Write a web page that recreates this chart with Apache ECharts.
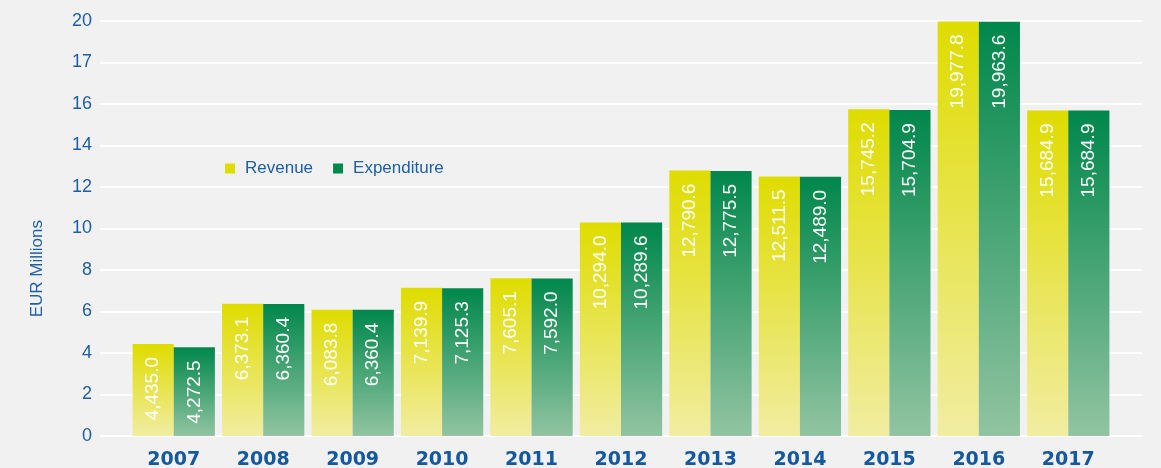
<!DOCTYPE html>
<html>
<head>
<meta charset="utf-8">
<script src="https://cdn.jsdelivr.net/npm/echarts@6/dist/echarts.min.js"></script>
<style>
  html, body { margin: 0; padding: 0; background: #f1f1f1; }
  #chart { width: 1161px; height: 468px; }
</style>
</head>
<body>
<div id="chart"></div>
<script>
// data (EUR millions)
var years = ['2007', '2008', '2009', '2010', '2011', '2012', '2013', '2014', '2015', '2016', '2017'];
var revenue = [4435.0, 6373.1, 6083.8, 7139.9, 7605.1, 10294.0, 12790.6, 12511.5, 15745.2, 19977.8, 15684.9];
var expenditure = [4272.5, 6360.4, 6083.8, 7125.3, 7592.0, 10289.6, 12775.5, 12489.0, 15704.9, 19963.6, 15684.9];
var expenditureLabels = ['4,272.5', '6,360.4', '6,360.4', '7,125.3', '7,592.0', '10,289.6', '12,775.5', '12,489.0', '15,704.9', '19,963.6', '15,684.9'];
var yTicks = ['0', '2', '4', '6', '8', '10', '12', '14', '16', '17', '20'];

document.addEventListener('DOMContentLoaded', function () {
  var blue = '#1d5fa6';

  function fmt(v) {
    return v.toLocaleString('en-US', { minimumFractionDigits: 1, maximumFractionDigits: 1 });
  }

  function grad(top, bottom) {
    return new echarts.graphic.LinearGradient(0, 0, 0, 1, [
      { offset: 0, color: top },
      { offset: 1, color: bottom }
    ]);
  }

  var barLabel = {
    show: true,
    position: 'insideTop',
    distance: 13,
    rotate: 90,
    align: 'right',
    verticalAlign: 'middle',
    color: '#ffffff',
    fontSize: 19,
    fontFamily: 'Liberation Sans'
  };

  var chart = echarts.init(document.getElementById('chart'));
  chart.setOption({
    backgroundColor: '#f1f1f1',
    animation: false,
    grid: [
      { left: 100, right: 19, top: 21, bottom: 32, outerBoundsMode: 'none', containLabel: false },
      { left: 129, right: 48, top: 21, bottom: 32, outerBoundsMode: 'none', containLabel: false }
    ],
    legend: {
      left: 220,
      top: 155,
      itemWidth: 10,
      itemHeight: 10,
      itemGap: 20,
      icon: 'rect',
      textStyle: { color: blue, fontSize: 17, fontFamily: 'Liberation Sans', padding: [0, 0, 0, 5] },
      data: [
        { name: 'Revenue', itemStyle: { color: '#dedc00' } },
        { name: 'Expenditure', itemStyle: { color: '#00874b' } }
      ]
    },
    graphic: [{
      type: 'text',
      left: 29,
      top: 220,
      rotation: Math.PI / 2,
      style: {
        text: 'EUR Millions',
        fill: blue,
        fontSize: 17,
        fontFamily: 'Liberation Sans'
      }
    }],
    xAxis: [
      { gridIndex: 0, type: 'value', show: false, min: 0, max: 1 },
      {
        gridIndex: 1,
        type: 'category',
        data: years,
        axisLine: { show: false },
        axisTick: { show: false },
        axisLabel: {
          margin: 15,
          color: '#1458a0',
          fontSize: 19,
          fontWeight: 'bold',
          fontFamily: 'DejaVu Sans'
        }
      }
    ],
    yAxis: [
      {
        gridIndex: 0,
        type: 'value',
        min: 0,
        max: 20,
        interval: 2,
        axisLine: { show: false },
        axisTick: { show: false },
        splitLine: { lineStyle: { color: '#ffffff', width: 2 } },
        axisLabel: {
          margin: 8,
          color: blue,
          fontSize: 18,
          fontFamily: 'Liberation Sans',
          formatter: function (v) { return yTicks[Math.round(v / 2)]; }
        }
      },
      { gridIndex: 1, type: 'value', min: 0, max: 20, show: false }
    ],
    series: [
      {
        name: 'Revenue',
        type: 'bar',
        xAxisIndex: 1,
        yAxisIndex: 1,
        barGap: '0%',
        barCategoryGap: '8%',
        data: revenue.map(function (v) { return v / 1000; }),
        itemStyle: { color: grad('#dfdc00', '#f1eda2') },
        label: Object.assign({}, barLabel, {
          formatter: function (p) { return fmt(revenue[p.dataIndex]); }
        })
      },
      {
        name: 'Expenditure',
        type: 'bar',
        xAxisIndex: 1,
        yAxisIndex: 1,
        data: expenditure.map(function (v) { return v / 1000; }),
        itemStyle: { color: grad('#00874b', '#92c4a2') },
        label: Object.assign({}, barLabel, {
          formatter: function (p) { return expenditureLabels[p.dataIndex]; }
        })
      }
    ]
  });
});
</script>
</body>
</html>
